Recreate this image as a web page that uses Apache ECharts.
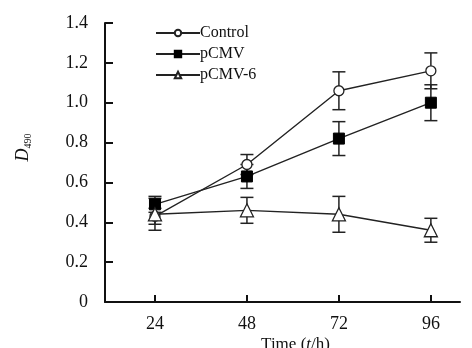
<!DOCTYPE html>
<html>
<head>
<meta charset="utf-8">
<script src="https://cdn.jsdelivr.net/npm/echarts@6/dist/echarts.min.js"></script>
<style>html,body{margin:0;padding:0;background:#fff}#c{width:472px;height:348px}</style>
</head>
<body>
<div id="c"></div>
<script>
var hours = [24, 48, 72, 96];
var yTicks = [0, 0.2, 0.4, 0.6, 0.8, 1.0, 1.2, 1.4];
var controlMean = [0.43, 0.69, 1.06, 1.16];
var controlErr  = [0.04, 0.05, 0.095, 0.09];
var pcmvMean = [0.49, 0.63, 0.82, 1.00];
var pcmvErr  = [0.04, 0.06, 0.085, 0.09];
var pcmv6Mean = [0.44, 0.46, 0.44, 0.36];
var pcmv6Err  = [0.08, 0.065, 0.09, 0.06];

function pts(m){ return hours.map(function(h,i){ return [h, m[i]]; }); }
function errs(m,e){ return hours.map(function(h,i){ return [h, m[i]-e[i], m[i]+e[i]]; }); }

function errSeries(m,e){
  return {
    type: 'custom',
    data: errs(m,e),
    z: 1,
    silent: true,
    renderItem: function(params, api){
      var x = api.value(0);
      var lo = api.coord([x, api.value(1)]);
      var hi = api.coord([x, api.value(2)]);
      var w = 6.5;
      var st = {stroke:'#222', lineWidth:1.5};
      return {type:'group', children:[
        {type:'line', shape:{x1:lo[0], y1:lo[1], x2:hi[0], y2:hi[1]}, style:st},
        {type:'line', shape:{x1:lo[0]-w, y1:lo[1], x2:lo[0]+w, y2:lo[1]}, style:st},
        {type:'line', shape:{x1:hi[0]-w, y1:hi[1], x2:hi[0]+w, y2:hi[1]}, style:st}
      ]};
    }
  };
}

var font = 'Liberation Serif';
var chart = echarts.init(document.getElementById('c'), null, {renderer:'canvas'});
chart.setOption({
  animation: false,
  backgroundColor: '#fff',
  textStyle: {fontFamily: font, color: '#111'},
  grid: {left: 105, right: 12, top: 23, bottom: 46, outerBoundsMode: 'none', containLabel: false},
  legend: {
    orient: 'vertical', left: 150, top: 20, itemGap: 5,
    itemWidth: 44, itemHeight: 8,
    textStyle: {fontFamily: font, fontSize: 16, color: '#111', padding:[0,0,0,-5]},
    data: ['Control', 'pCMV', 'pCMV-6']
  },
  xAxis: {
    type: 'value', min: 10.96, max: 103.6,
    name: 'Time ({i|t}/h)',
    nameLocation: 'middle', nameGap: 34, nameMoveOverlap: false,
    nameTextStyle: {fontFamily: font, fontSize: 17, color: '#111', padding:[0,0,0,26],
      rich:{i:{fontFamily: font, fontStyle:'italic', fontSize:17, color:'#111'}}},
    axisLine: {lineStyle: {color: '#111', width: 2}},
    axisTick: {inside: true, length: 7, lineStyle: {color:'#111', width: 2}, customValues: hours},
    axisLabel: {customValues: hours, margin: 13, fontSize: 18, color: '#111', fontFamily: font},
    splitLine: {show: false}
  },
  yAxis: {
    type: 'value', min: 0, max: 1.4, interval: 0.2,
    name: '{d|D}{s|490}',
    nameLocation: 'middle', nameRotate: 90, nameGap: 72, nameMoveOverlap: false,
    nameTextStyle: {padding:[0,0,0,30], rich: {
      d: {fontFamily: font, fontStyle: 'italic', fontSize: 18, color:'#111'},
      s: {fontFamily: font, fontSize: 10, color:'#111', padding:[10,0,0,0]}
    }},
    axisLine: {show: true, lineStyle: {color: '#111', width: 2}},
    axisTick: {show: true, inside: true, length: 8, lineStyle: {color:'#111', width: 2}},
    axisLabel: {margin: 17, fontSize: 18, color: '#111', fontFamily: font,
      formatter: function(v){ return v === 0 ? '0' : v.toFixed(1); }},
    splitLine: {show: false}
  },
  series: [
    errSeries(controlMean, controlErr),
    errSeries(pcmvMean, pcmvErr),
    errSeries(pcmv6Mean, pcmv6Err),
    {name:'Control', type:'line', data: pts(controlMean), z: 3,
     symbol:'circle', symbolSize: 10,
     itemStyle:{color:'#fff', borderColor:'#222', borderWidth:1.3},
     lineStyle:{color:'#222', width:1.4}},
    {name:'pCMV', type:'line', data: pts(pcmvMean), z: 3,
     symbol:'rect', symbolSize: 11,
     itemStyle:{color:'#000', borderColor:'#000', borderWidth:1},
     lineStyle:{color:'#222', width:1.4}},
    {name:'pCMV-6', type:'line', data: pts(pcmv6Mean), z: 3,
     symbol:'triangle', symbolSize: 13,
     itemStyle:{color:'#fff', borderColor:'#222', borderWidth:1.3},
     lineStyle:{color:'#222', width:1.4}}
  ]
});
</script>
</body>
</html>
